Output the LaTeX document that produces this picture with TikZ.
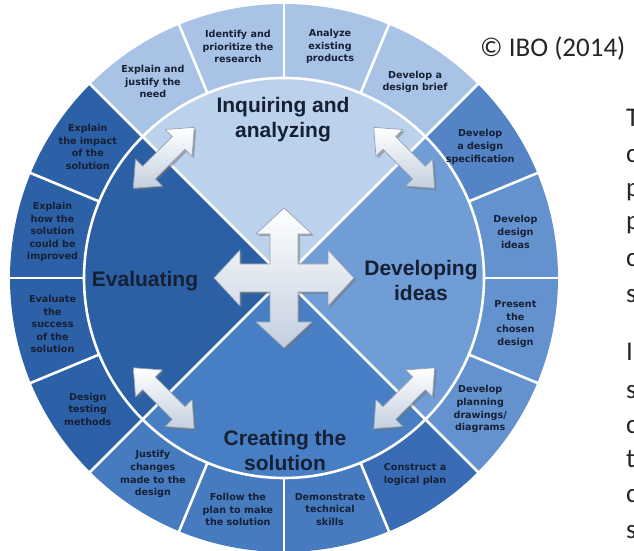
\documentclass[tikz,border=0pt]{standalone}
\usepackage{fontspec}
\usetikzlibrary{shadows}
\newfontfamily\stepFont{DejaVu Sans}
\newfontfamily\stageFont{Liberation Sans}
\newfontfamily\noteFont{Carlito}
\definecolor{inquireInner}{RGB}{188,210,236}
\definecolor{inquireRing}{RGB}{168,195,229}
\definecolor{developInner}{RGB}{112,157,213}
\definecolor{developRing}{RGB}{100,146,207}
\definecolor{developDark}{RGB}{84,131,198}
\definecolor{createInner}{RGB}{72,127,196}
\definecolor{createRing}{RGB}{70,123,192}
\definecolor{createDark}{RGB}{57,108,180}
\definecolor{evalInner}{RGB}{44,96,165}
\definecolor{evalRing}{RGB}{45,97,167}
\definecolor{textColor}{RGB}{22,32,52}
\definecolor{arrowShade}{RGB}{196,207,223}
\definecolor{arrowEdge}{RGB}{150,162,182}
\tikzstyle{cycleChart} = [x=1pt, y=1pt]
\tikzstyle{segmentLine} = [color=white, line width=2.6pt]
\tikzstyle{stepText} = [font=\stepFont\bfseries\fontsize{9.6}{12.6}\selectfont, text=textColor, align=center, inner sep=0pt]
\tikzstyle{stageText} = [font=\stageFont\bfseries\fontsize{21}{25}\selectfont, text=textColor, align=center, inner sep=0pt]
\tikzstyle{noteText} = [font=\noteFont\fontsize{27}{32}\selectfont, text=black!85, inner sep=0pt, anchor=base west]
\tikzstyle{arrowStyle} = [draw=arrowEdge, line width=.7pt, line join=round, top color=white, bottom color=arrowShade, drop shadow={shadow xshift=2pt, shadow yshift=-2pt, fill=black!55, opacity=.5}]
\newcommand{\outerR}{274}
\newcommand{\innerR}{200}
\newcommand{\ringSector}[4]{\fill [#1] (0,0) -- (#2:#4) arc [start angle=#2, end angle=#3, radius=#4] -- cycle;}
\newcommand{\doubleArrow}[2]{\path [arrowStyle, shift={(#1:170)}, rotate=#2] (-43,0) -- (-21,19) -- (-21,9) -- (21,9) -- (21,19) -- (43,0) -- (21,-19) -- (21,-9) -- (-21,-9) -- (-21,-19) -- cycle;}
\newcommand{\crossArrow}{\path [arrowStyle] (70,0) -- (44,28) -- (44,14) -- (14,14) -- (14,44) -- (28,44) -- (0,70) -- (-28,44) -- (-14,44) -- (-14,14) -- (-44,14) -- (-44,28) -- (-70,0) -- (-44,-28) -- (-44,-14) -- (-14,-14) -- (-14,-44) -- (-28,-44) -- (0,-70) -- (28,-44) -- (14,-44) -- (14,-14) -- (44,-14) -- (44,-28) -- cycle;}
\newcommand{\stepLabel}[3]{\node [stepText] (#1) at (#2:236) {#3};}

\begin{document}
\begin{tikzpicture}[cycleChart]
  \useasboundingbox (-284,-273) rectangle (350,278);
  \fill [white] (-284,-273) rectangle (350,278);

  \ringSector{inquireRing}{45}{135}{\outerR}
  \ringSector{developRing}{-45}{45}{\outerR}
  \ringSector{developDark}{22.5}{45}{\outerR}
  \ringSector{createRing}{-135}{-45}{\outerR}
  \ringSector{createDark}{-67.5}{-45}{\outerR}
  \ringSector{evalRing}{135}{225}{\outerR}
  \ringSector{inquireInner}{45}{135}{\innerR}
  \ringSector{developInner}{-45}{45}{\innerR}
  \ringSector{createInner}{-135}{-45}{\innerR}
  \ringSector{evalInner}{135}{225}{\innerR}

  \draw [segmentLine] (0,0) circle [radius=\innerR];
  \foreach \angle in {0,22.5,...,337.5}
    \draw [segmentLine] (\angle:\innerR) -- (\angle:\outerR + 2);
  \draw [segmentLine] (45:\innerR) -- (225:\innerR);
  \draw [segmentLine] (135:\innerR) -- (315:\innerR);

  \doubleArrow{45}{-45}
  \doubleArrow{135}{45}
  \doubleArrow{225}{-45}
  \doubleArrow{315}{45}
  \crossArrow

  \stepLabel{need}{123.75}{Explain and\\justify the\\need}
  \stepLabel{research}{101.25}{Identify and\\prioritize the\\research}
  \stepLabel{products}{78.75}{Analyze\\existing\\products}
  \stepLabel{brief}{56.25}{Develop a\\design brief}
  \stepLabel{spec}{33.75}{Develop\\a design\\specification}
  \stepLabel{ideas}{11.25}{Develop\\design\\ideas}
  \stepLabel{present}{-11.25}{Present\\the\\chosen\\design}
  \stepLabel{drawings}{-33.75}{Develop\\planning\\drawings/\\diagrams}
  \stepLabel{plan}{-56.25}{Construct a\\logical plan}
  \stepLabel{skills}{-78.75}{Demonstrate\\technical\\skills}
  \stepLabel{make}{-101.25}{Follow the\\plan to make\\the solution}
  \stepLabel{justify}{-123.75}{Justify\\changes\\made to the\\design}
  \stepLabel{testing}{-146.25}{Design\\testing\\methods}
  \stepLabel{success}{-168.75}{Evaluate\\the\\success\\of the\\solution}
  \stepLabel{improve}{168.75}{Explain\\how the\\solution\\could be\\improved}
  \stepLabel{impact}{146.25}{Explain\\the impact\\of the\\solution}

  \node [stageText] (inquiring) at (-1,158) {Inquiring and\\analyzing};
  \node [stageText] (developing) at (137,-2) {Developing\\ideas};
  \node [stageText] (evaluating) at (-139,-3) {Evaluating};
  \node [stageText] (creating) at (1,-172) {Creating the\\solution};

  \node [noteText] (copyright) at (196,221) {© IBO (2014)};
  \foreach \letter/\y [count=\n] in {T/151, c/115, p/81, p/48, c/11, s/-25, I/-82, s/-120, c/-155, t/-189, c/-224, s/-260}
    \node [noteText] (cut\n) at (342,\y) {\letter};
\end{tikzpicture}
\end{document}
